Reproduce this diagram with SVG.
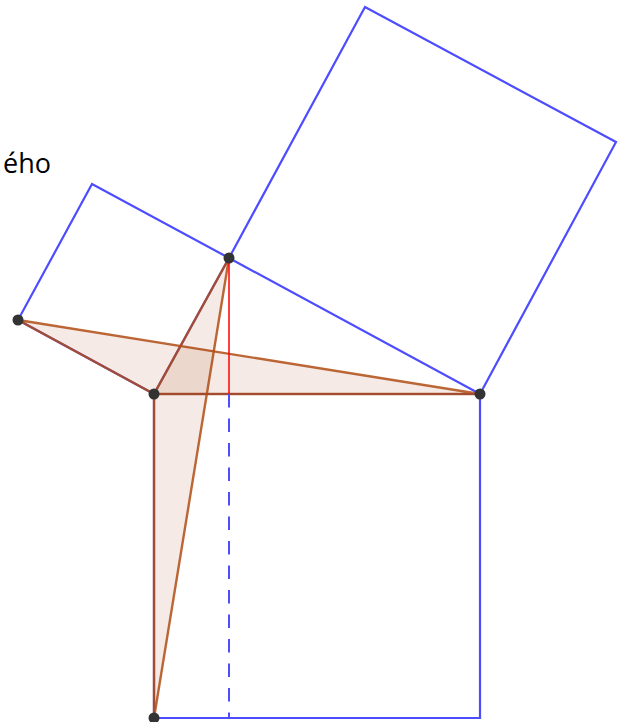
<svg xmlns="http://www.w3.org/2000/svg" width="624" height="722" viewBox="0 0 624 722">
<style>
.sq{fill:none;stroke:#4d4dff;stroke-width:2.2;stroke-linejoin:miter}
.tri{fill:#993300;fill-opacity:0.1;stroke:#b04c14;stroke-opacity:0.85;stroke-width:2.4;stroke-linejoin:round}
.pt{fill:#333333}
.lbl{font-family:"Open Sans","Liberation Sans",sans-serif;font-size:27px;fill:#000}
</style>
<rect width="624" height="722" fill="#ffffff"/>
<g id="squares">
<polygon id="squareTop" class="sq" points="229,258 365,7 616,142 480,394"/>
<polygon id="squareLeft" class="sq" points="154,394 18,320 92,184 229,258"/>
<polygon id="squareBottom" class="sq" points="154,394 480,394 480,718 154,718"/>
</g>
<g id="triangles">
<polygon id="triangleDBA" class="tri" points="18,320 480,394 154,394"/>
<polygon id="triangleCAE" class="tri" points="229,258 154,394 154,718"/>
</g>
<g id="connectors">
<line x1="229" y1="258" x2="229" y2="394" stroke="#ff0000" stroke-width="1.5"/>
<line x1="229" y1="394" x2="229" y2="718" stroke="#4d4dff" stroke-width="2" stroke-dasharray="13.5 11"/>
</g>
<g id="points">
<circle id="C" class="pt" cx="229" cy="258" r="5.5"/>
<circle id="A" class="pt" cx="154" cy="394" r="5.5"/>
<circle id="D" class="pt" cx="18" cy="320" r="5.5"/>
<circle id="B" class="pt" cx="480" cy="394" r="5.5"/>
<circle id="E" class="pt" cx="154" cy="718" r="5.5"/>
</g>
<text id="label" class="lbl" x="3" y="173">ého</text>
</svg>
